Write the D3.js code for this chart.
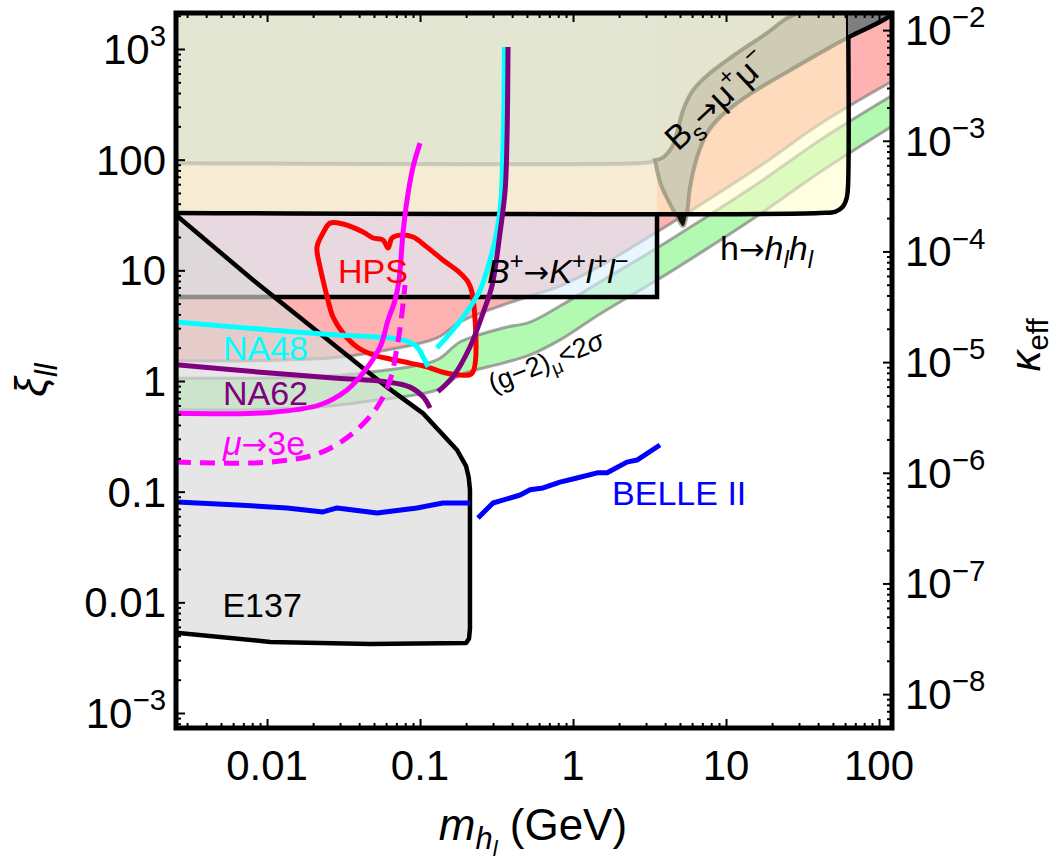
<!DOCTYPE html>
<html>
<head>
<meta charset="utf-8">
<script src="https://cdn.jsdelivr.net/npm/d3@7"></script>
<style>
  body { margin: 0; background: #fff; }
  text { font-family: "Liberation Sans", Arial, sans-serif; }
  .arrow { font-family: "DejaVu Sans", sans-serif; }
</style>
</head>
<body>
<svg id="chart" width="1062" height="864"></svg>
<script>
// axis ranges and ticks
const massDomain = [0.00254, 121.6];
const xiDomain = [7.32e-4, 2114];
const kappaDomain = [4.94e-9, 1.427e-2];
const massTicks = [0.01, 0.1, 1, 10, 100];
const massTickLabels = ["0.01", "0.1", "1", "10", "100"];
const xiTicks = [1e-3, 0.01, 0.1, 1, 10, 100, 1e3];
const xiTickLabels = [["10", "−3"], ["0.01"], ["0.1"], ["1"], ["10"], ["100"], ["10", "3"]];
const kappaTicks = [1e-8, 1e-7, 1e-6, 1e-5, 1e-4, 1e-3, 1e-2];
const kappaTickLabels = ["−8", "−7", "−6", "−5", "−4", "−3", "−2"];

// (g-2)_mu curves, sampled at the same masses
const g2Mass = [0.00254, 0.00774, 0.0258, 0.0471, 0.129, 0.1825, 0.348, 0.524, 0.822, 1.5, 3.54, 6.76, 16.7, 41.1, 121.6];
const g2Excluded = [1.52, 1.52, 1.61, 1.79, 2.45, 3.41, 4.86, 5.87, 7.21, 10.9, 22.2, 38.9, 87.5, 210, 510];
const g2BandHigh = [1.06, 1.06, 1.11, 1.2, 1.55, 2.25, 3.01, 3.41, 4.76, 7.84, 15.9, 27.9, 62.8, 150, 380];
const g2BandLow = [0.55, 0.55, 0.594, 0.66, 0.83, 1.13, 1.45, 1.72, 2.35, 4.03, 8.17, 14.3, 32.3, 77, 200];

// B+ -> K+ l+ l- box
const bkllMassMax = 3.54;
const bkllXiMin = 5.74;

// h -> h_l h_l edge
const higgsEdge = [[0.00254, 33], [41, 33], [52, 34], [58, 37.5], [61.5, 45], [62.7, 57], [62.7, 3000]];
const higgsMassMax = 62.7;

// E137 region
const e137 = [[0.00254, 31.6], [0.0081, 8.17], [0.0172, 3.56], [0.0387, 1.45], [0.0609, 0.88], [0.1047, 0.51],
  [0.1745, 0.238], [0.2, 0.17], [0.208, 0.135], [0.212, 0.104], [0.212, 0.0058], [0.209, 0.0047],
  [0.2, 0.0043], [0.0471, 0.00421], [0.0105, 0.00439], [0.00254, 0.0053]];

// Bs -> mu mu band
const bsUpper = [[3.44, 99], [3.88, 105], [4.43, 130], [4.78, 174], [5.24, 280], [6.09, 425], [7.86, 606],
  [11.8, 918], [18.5, 1393], [25, 1900], [29.1, 2110], [33, 2600]];
const bsLower = [[3.44, 99], [3.54, 80.5], [3.76, 59], [4.18, 43.1], [4.71, 31.6], [5.24, 25.1], [5.56, 33],
  [5.82, 56.5], [6.46, 105], [7.52, 174], [9.14, 243], [11.8, 324], [15, 408], [25, 618], [41.1, 918],
  [61.8, 1254], [120, 2024], [140, 2600]];
const upperFlat = [[0.00254, 93], [2.74, 93], [3.2, 95]];

// experimental curves
const hpsLoop = [[0.0258, 26.7], [0.0314, 26.2], [0.0424, 22.2], [0.0493, 19.6], [0.0573, 18.8], [0.0618, 15.9],
  [0.0656, 19.6], [0.074, 20.8], [0.09, 20], [0.111, 16.2], [0.141, 12.4], [0.1825, 9.46], [0.206, 7.84],
  [0.219, 6.24], [0.219, 1.18], [0.1825, 1.13], [0.141, 1.2], [0.111, 1.34], [0.0861, 1.45], [0.0637, 1.58],
  [0.0493, 1.72], [0.0387, 2.03], [0.0314, 2.71], [0.027, 3.79], [0.0247, 5.74], [0.0232, 8.17],
  [0.0222, 10.7], [0.0212, 16.2], [0.0232, 21.7]];
const na48Low = [[0.00254, 3.41], [0.0105, 2.89], [0.0287, 2.6], [0.0774, 2.35], [0.0955, 2.03], [0.1047, 1.65], [0.1128, 1.34]];
const na48High = [[0.129, 1.99], [0.164, 2.89], [0.206, 4.38], [0.247, 6.64], [0.287, 12.4], [0.319, 23.1],
  [0.338, 43.1], [0.348, 122], [0.354, 345], [0.356, 1040]];
const na62Low = [[0.00254, 1.4], [0.0105, 1.18], [0.0287, 1.06], [0.0609, 0.98], [0.0861, 0.88], [0.1047, 0.72], [0.1162, 0.57]];
const na62High = [[0.131, 0.8], [0.164, 1.09], [0.212, 2.03], [0.258, 4.11], [0.296, 7.36], [0.333, 21.7],
  [0.36, 53.1], [0.37, 150], [0.376, 1040]];
const mu3eSolid = [[0.00254, 0.51], [0.0105, 0.52], [0.0222, 0.61], [0.0333, 0.83], [0.0424, 1.18], [0.0548, 2.03],
  [0.0618, 3.56], [0.0687, 5.39], [0.0729, 8.17], [0.0774, 21.7], [0.0822, 43.1], [0.09, 86], [0.1, 141]];
const mu3eDashed = [[0.00254, 0.185], [0.0105, 0.185], [0.0222, 0.224], [0.0365, 0.339], [0.0524, 0.58],
  [0.0637, 1.02], [0.0708, 2.03], [0.0762, 4.11], [0.0798, 7.36]];
const belleLow = [[0.00258, 0.0807], [0.0064, 0.0758], [0.0135, 0.0713], [0.0232, 0.0656], [0.0287, 0.0713],
  [0.0524, 0.0642], [0.0955, 0.0713], [0.141, 0.079], [0.212, 0.079]];
const belleHigh = [[0.239, 0.0578], [0.3, 0.079], [0.451, 0.0933], [0.524, 0.104], [0.637, 0.108], [0.822, 0.122],
  [1.06, 0.133], [1.44, 0.148], [1.67, 0.148], [2.25, 0.185], [2.62, 0.193], [3.7, 0.264]];

const plot = { left: 176, right: 892, top: 13, bottom: 728 };
const svg = d3.select("#chart");

const x = d3.scaleLog().domain(massDomain).range([plot.left, plot.right]);
const y = d3.scaleLog().domain(xiDomain).range([plot.bottom, plot.top]);
const yk = d3.scaleLog().domain(kappaDomain).range([plot.bottom, plot.top]);

const zip = (ms, vs) => ms.map((m, i) => [m, vs[i]]);
const edge = d3.line().x((d) => x(d[0])).y((d) => y(d[1])).curve(d3.curveCatmullRom.alpha(0.5));
const ring = (...parts) => parts.map((p, i) => (i ? edge(p).replace(/^M/, "L") : edge(p))).join("") + "Z";
const closed = d3.line().x((d) => x(d[0])).y((d) => y(d[1])).curve(d3.curveCatmullRomClosed.alpha(0.5));
const polygon = d3.line().x((d) => x(d[0])).y((d) => y(d[1])).curve(d3.curveLinearClosed);
const FAR = 1e5, LEFT = 0.002;

const defs = svg.append("defs");
defs.append("clipPath").attr("id", "plotClip").append("rect")
  .attr("x", plot.left).attr("y", plot.top)
  .attr("width", plot.right - plot.left).attr("height", plot.bottom - plot.top);
defs.append("clipPath").attr("id", "beyondHiggs").append("rect")
  .attr("x", x(higgsMassMax)).attr("y", plot.top)
  .attr("width", plot.right - x(higgsMassMax)).attr("height", plot.bottom - plot.top);
defs.append("clipPath").attr("id", "belowHiggsLine").append("rect")
  .attr("x", plot.left).attr("y", y(33))
  .attr("width", plot.right - plot.left).attr("height", plot.bottom - y(33));

const g = svg.append("g").attr("clip-path", "url(#plotClip)");

// (g-2) excluded (red) and 2 sigma band (green)
const g2Top = zip(g2Mass, g2Excluded);
const g2Hi = zip(g2Mass, g2BandHigh);
const g2Lo = zip(g2Mass, g2BandLow);
g.append("path").attr("d", ring(g2Top, [[FAR, FAR], [LEFT, FAR]]))
  .attr("fill", "#ff0000").attr("fill-opacity", 0.3);
g.append("path").attr("d", ring(g2Hi, g2Lo.slice().reverse()))
  .attr("fill", "#00eb00").attr("fill-opacity", 0.3);
for (const c of [g2Top, g2Hi, g2Lo]) {
  g.append("path").attr("d", edge(c)).attr("fill", "none")
    .attr("stroke", "#808080").attr("stroke-opacity", 0.7).attr("stroke-width", 3);
}

// B+ box and h -> hh box fills
const bkllBox = [[LEFT, bkllXiMin], [bkllMassMax, bkllXiMin], [bkllMassMax, FAR], [LEFT, FAR]];
g.append("path").attr("d", polygon(bkllBox))
  .attr("fill", "rgb(217,241,253)").attr("fill-opacity", 0.6);
g.append("path").attr("d", ring(higgsEdge, [[higgsMassMax, FAR], [LEFT, FAR]]))
  .attr("fill", "rgb(255,253,200)").attr("fill-opacity", 0.55);
g.append("path")
  .attr("d", d3.line().x((d) => x(d[0])).y((d) => y(d[1]))([[LEFT, bkllXiMin], [bkllMassMax, bkllXiMin], [bkllMassMax, 33]]))
  .attr("fill", "none").attr("stroke", "#000").attr("stroke-width", 4.5);

// E137
g.append("path").attr("d", polygon(e137))
  .attr("fill", "rgb(217,217,217)").attr("fill-opacity", 0.65)
  .attr("stroke", "#000").attr("stroke-width", 4.5).attr("stroke-linejoin", "round");

// upper region and Bs band
const bsRing = ring(bsLower, bsUpper.slice().reverse());
g.append("path").attr("d", bsRing)
  .attr("fill", "rgb(150,185,170)").attr("fill-opacity", 0.45);
g.append("path").attr("d", ring(upperFlat, bsUpper, [[LEFT, FAR]]))
  .attr("fill", "rgb(224,229,210)").attr("fill-opacity", 0.9);
g.append("path").attr("d", edge(upperFlat.concat([bsUpper[0]]))).attr("fill", "none")
  .attr("stroke", "#a0a090").attr("stroke-opacity", 0.45).attr("stroke-width", 4);
g.append("path").attr("d", bsRing).attr("fill", "none")
  .attr("stroke", "rgb(150,150,125)").attr("stroke-opacity", 0.8).attr("stroke-width", 4);
g.append("path").attr("d", bsRing).attr("clip-path", "url(#belowHiggsLine)")
  .attr("fill", "#111");
g.append("path").attr("d", edge(higgsEdge)).attr("fill", "none")
  .attr("stroke", "#000").attr("stroke-width", 4.5);
g.append("g").attr("clip-path", "url(#beyondHiggs)").append("path").attr("d", bsRing)
  .attr("fill", "#7f7f7f").attr("stroke", "#000").attr("stroke-width", 4.5);

// experimental curves
const curve = d3.line().x((d) => x(d[0])).y((d) => y(d[1])).curve(d3.curveCatmullRom.alpha(0.5));
const jagged = d3.line().x((d) => x(d[0])).y((d) => y(d[1]));
g.append("path").attr("d", closed(hpsLoop)).attr("fill", "none")
  .attr("stroke", "#ff0000").attr("stroke-width", 5).attr("stroke-linejoin", "round");
[[na48Low, "#00ffff"], [na48High, "#00ffff"], [na62Low, "#800080"], [na62High, "#800080"], [mu3eSolid, "#ff00ff"]]
  .forEach(([d, c]) => {
    g.append("path").attr("d", curve(d)).attr("fill", "none")
      .attr("stroke", c).attr("stroke-width", 5);
  });
g.append("path").attr("d", curve(mu3eDashed)).attr("fill", "none")
  .attr("stroke", "#ff00ff").attr("stroke-width", 5).attr("stroke-dasharray", "15,9");
[belleLow, belleHigh].forEach((d) => {
  g.append("path").attr("d", jagged(d)).attr("fill", "none")
    .attr("stroke", "#0000ff").attr("stroke-width", 5).attr("stroke-linejoin", "round");
});

// rich text helper: parts with optional italic (i), vertical shift in em (s), size factor (k)
function rich(sel, parts, size) {
  let shift = 0;
  parts.forEach((p) => {
    const target = (p.s || 0) * size;
    sel.append("tspan")
      .attr("class", p.a ? "arrow" : null)
      .attr("dy", target - shift)
      .attr("font-size", size * (p.k || 1))
      .attr("font-style", p.i ? "italic" : null)
      .text(p.t);
    shift = target;
  });
  return sel;
}
const sup = (t) => ({ t, s: -0.42, k: 0.7 });
const sub = (t, i) => ({ t, s: 0.25, k: 0.7, i });
const arrow = { t: "→", a: 1, k: 0.9 };

function label(m, xi, color, parts, size, rotate) {
  const t = svg.append("text").attr("fill", color).attr("font-size", size);
  if (rotate) {
    t.attr("transform", `translate(${x(m)},${y(xi)}) rotate(${rotate})`);
  } else {
    t.attr("x", x(m)).attr("y", y(xi));
  }
  return rich(t, parts, size);
}
label(0.0291, 7.68, "#ff0000", [{ t: "HPS" }], 34);
label(0.00515, 1.55, "#00ffff", [{ t: "NA48" }], 34);
label(0.00515, 0.61, "#800080", [{ t: "NA62" }], 34);
label(0.00515, 0.215, "#ff00ff", [{ t: "μ", i: 1 }, arrow, { t: "3e" }], 34);
label(0.00511, 0.00738, "#000", [{ t: "E137" }], 34);
label(1.8, 0.0758, "#0000ff", [{ t: "BELLE II" }], 34);
label(0.274, 7.68, "#000", [{ t: "B", i: 1 }, sup("+"), arrow, { t: "K", i: 1 }, sup("+"),
  { t: "l", i: 1 }, sup("+"), { t: "l", i: 1 }, sup("−")], 34);
label(9.14, 12.4, "#000", [{ t: "h" }, arrow, { t: "h", i: 1 }, sub("l", 1), { t: "h", i: 1 }, sub("l", 1)], 34);
label(0.3, 0.78, "#000", [{ t: "(g−2)" }, sub("μ"), { t: "<2" }, { t: "σ", i: 1 }], 27, -22);
label(4.85, 117, "#000", [{ t: "B" }, sub("s"), arrow, { t: "μ" }, sup("+"), { t: "μ" }, sup("−")], 34, -43);

// ticks
const isMajor = (v) => Math.abs(Math.log10(v) - Math.round(Math.log10(v))) < 1e-6;
const len = (v) => (isMajor(v) ? 9 : 5);
function ticks(axis, transform, attr, sign) {
  svg.append("g").attr("transform", transform)
    .call(axis.tickSize(0).tickFormat(""))
    .call((a) => a.select(".domain").remove())
    .selectAll(".tick line")
    .attr(attr, (d) => sign * len(d)).attr("stroke", "#000").attr("stroke-width", 2);
}
ticks(d3.axisBottom(x).tickValues(x.ticks()), `translate(0,${plot.bottom})`, "y2", -1);
ticks(d3.axisTop(x).tickValues(x.ticks()), `translate(0,${plot.top})`, "y2", 1);
ticks(d3.axisLeft(y).tickValues(y.ticks()), `translate(${plot.left},0)`, "x2", 1);
ticks(d3.axisRight(yk).tickValues(yk.ticks()), `translate(${plot.right},0)`, "x2", -1);

svg.append("rect").attr("x", plot.left).attr("y", plot.top)
  .attr("width", plot.right - plot.left).attr("height", plot.bottom - plot.top)
  .attr("fill", "none").attr("stroke", "#000").attr("stroke-width", 5);

// tick labels
const TICK = 42;
svg.selectAll(".mlab").data(massTicks).join("text").attr("class", "mlab")
  .attr("x", (d) => x(d)).attr("y", 780).attr("text-anchor", "middle")
  .attr("font-size", TICK).text((d, i) => massTickLabels[i]);
svg.selectAll(".xilab").data(xiTicks).join("text").attr("class", "xilab")
  .attr("x", 166).attr("y", (d) => y(d) + 15).attr("text-anchor", "end").attr("font-size", TICK)
  .each(function (d, i) {
    const p = xiTickLabels[i];
    rich(d3.select(this), p.length > 1 ? [{ t: p[0] }, sup(p[1])] : [{ t: p[0] }], TICK);
  });
svg.selectAll(".klab").data(kappaTicks).join("text").attr("class", "klab")
  .attr("x", 905).attr("y", (d) => yk(d) + 15).attr("font-size", TICK)
  .each(function (d, i) {
    rich(d3.select(this), [{ t: "10" }, sup(kappaTickLabels[i])], TICK);
  });

// axis titles
rich(svg.append("text").attr("x", 533).attr("y", 840).attr("text-anchor", "middle").attr("font-size", 44),
  [{ t: "m", i: 1 }, { t: "h", i: 1, s: 0.2, k: 0.7 }, { t: "l", i: 1, s: 0.36, k: 0.5 }, { t: " (GeV)", s: 0 }], 44);
rich(svg.append("text").attr("transform", "translate(46,380) rotate(-90)").attr("text-anchor", "middle").attr("font-size", 44),
  [{ t: "ξ", i: 1 }, sub("ll", 1)], 44);
rich(svg.append("text").attr("transform", "translate(1040,345) rotate(-90)").attr("text-anchor", "middle").attr("font-size", 42),
  [{ t: "κ", i: 1 }, { t: "eff", s: 0.2, k: 0.7 }], 42);
</script>
</body>
</html>
